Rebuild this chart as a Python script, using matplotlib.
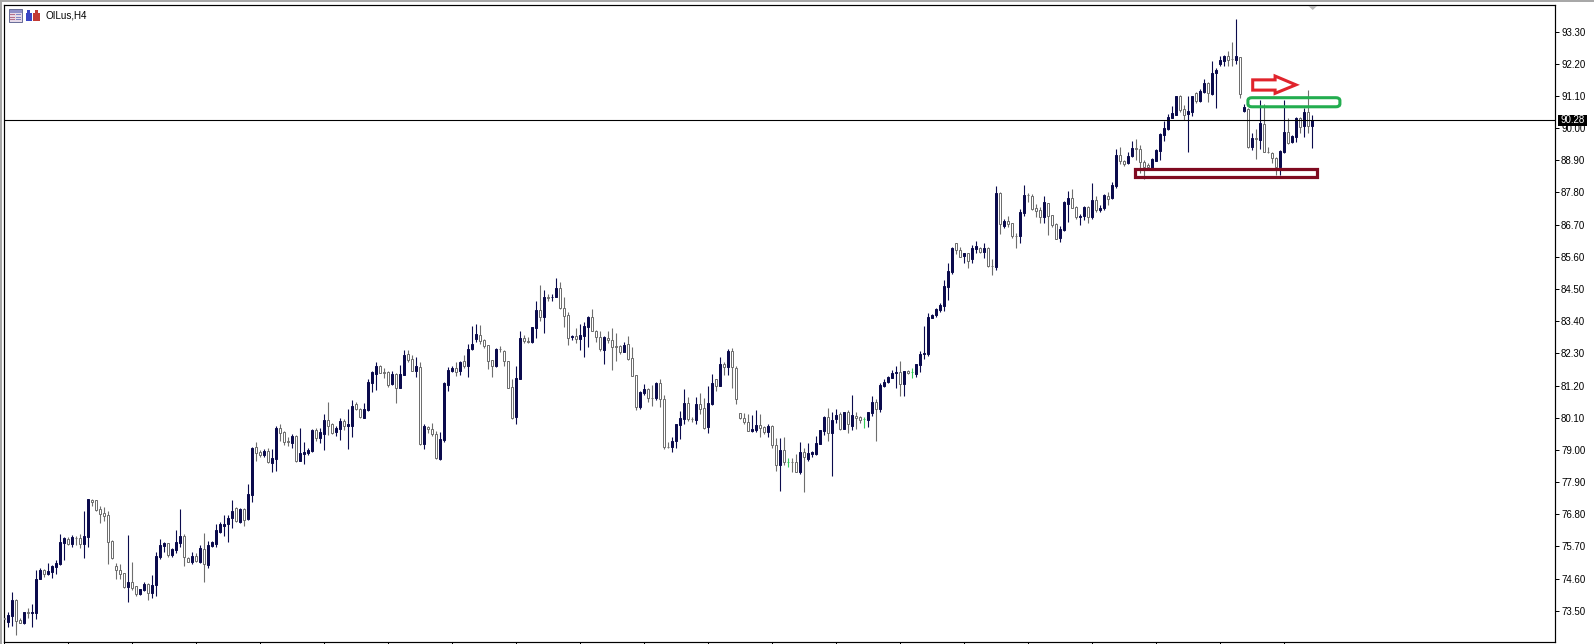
import numpy as np
import matplotlib
matplotlib.use("Agg")
import matplotlib.pyplot as plt
from matplotlib.patches import Rectangle, Polygon, FancyBboxPatch

symbol_label = "OILus,H4"
last_price = 90.28
price_ticks = [93.30, 92.20, 91.10, 90.00, 88.90, 87.80, 86.70, 85.60, 84.50, 83.40,
               82.30, 81.20, 80.10, 79.00, 77.90, 76.80, 75.70, 74.60, 73.50]

opens = [73.25,
    73.13,73.33,73.87,73.18,73.08,73.46,73.44,73.44,74.59,74.88,
    74.76,74.83,75.01,75.09,75.83,75.97,75.78,76.00,75.99,75.78,
    76.01,77.29,77.27,76.98,76.83,76.76,75.90,75.02,74.88,74.78,
    74.32,74.47,74.34,74.07,74.21,74.43,74.09,74.38,75.35,75.73,
    75.81,75.41,75.59,75.83,76.07,75.30,75.15,75.36,75.17,75.60,
    75.07,75.71,75.78,76.19,76.41,76.47,76.66,77.00,76.54,76.98,
    76.65,77.46,79.09,78.93,78.83,78.96,78.56,78.69,79.75,79.61,
    79.29,79.23,79.49,78.62,78.87,78.88,78.95,79.68,79.41,79.55,
    80.02,79.88,79.60,79.73,79.99,79.82,79.82,80.58,80.40,80.10,
    80.37,81.27,81.61,81.88,81.65,81.65,81.26,81.61,81.13,81.57,
    82.28,82.12,81.69,81.83,79.20,79.79,79.73,79.54,78.68,79.33,
    81.21,81.68,81.80,81.68,82.04,81.87,82.44,82.78,82.94,82.75,
    82.57,82.07,81.87,82.45,82.39,82.04,81.14,80.13,81.43,82.81,
    82.72,82.69,83.16,83.77,83.53,84.22,84.22,84.24,84.52,83.84,
    83.60,82.86,82.88,82.80,82.90,83.21,83.54,83.07,82.86,82.42,
    82.83,82.75,82.55,82.55,82.34,82.62,82.13,81.55,80.45,80.93,
    81.08,80.79,80.76,81.28,80.73,79.11,79.10,79.30,79.86,80.05,
    80.59,80.06,80.02,80.56,80.42,79.79,80.57,81.41,81.19,81.93,
    81.84,82.39,81.80,80.25,80.08,79.97,79.65,79.68,79.84,79.78,
    79.62,79.82,79.15,78.50,78.99,78.59,78.60,78.58,78.23,78.92,
    78.69,78.87,78.86,79.20,79.66,80.12,79.59,80.05,80.21,79.72,
    80.28,79.83,80.17,80.11,80.04,80.02,80.27,80.62,80.40,81.19,
    81.32,81.47,81.64,81.66,81.25,81.70,81.65,81.59,81.91,82.28,
    82.28,83.51,83.60,83.78,83.93,84.58,85.08,86.06,85.83,85.64,
    85.72,85.51,85.87,85.91,85.78,85.91,85.30,85.24,87.79,86.66,
    86.81,86.76,86.32,86.31,87.11,87.72,87.69,87.26,87.20,86.97,
    87.43,87.02,86.72,86.23,86.52,87.42,87.60,87.29,86.95,86.99,
    87.30,86.96,87.53,87.19,87.26,87.69,87.61,88.02,89.08,88.89,
    88.80,89.03,89.31,89.28,88.85,88.74,88.63,88.89,89.23,89.77,
    89.97,90.35,90.46,91.11,90.64,90.48,90.56,91.19,90.93,91.24,
    91.53,91.16,91.87,92.18,92.29,92.47,92.38,92.33,92.43,90.57,
    90.64,89.37,89.66,89.59,90.13,89.20,89.14,88.97,88.68,89.17,
    89.86,89.51,89.71,90.33,90.07,90.54,90.08]

highs = [73.32,
    73.47,74.13,73.89,73.26,73.46,73.58,73.73,74.90,74.96,74.92,
    75.12,75.07,75.24,76.13,76.01,76.01,76.09,76.06,76.11,76.91,
    77.32,77.32,77.29,77.08,77.03,76.91,75.92,75.12,75.09,74.78,
    76.08,75.15,74.36,74.24,74.50,74.46,74.72,75.50,75.95,75.86,
    75.83,75.64,76.26,76.98,76.11,75.35,75.52,75.49,75.75,76.15,
    75.90,75.87,76.47,76.55,76.78,76.78,77.29,77.03,77.00,77.00,
    77.84,79.09,79.26,79.00,79.03,79.05,79.03,79.82,79.88,79.66,
    79.43,79.53,79.51,79.74,79.26,79.05,79.70,79.74,79.74,80.23,
    80.62,79.91,79.82,80.08,80.06,80.40,80.70,80.65,80.42,80.59,
    81.43,81.69,82.00,81.90,81.79,81.68,81.68,81.64,81.90,82.42,
    82.42,82.26,82.16,82.02,79.90,79.81,79.93,79.65,79.61,81.33,
    81.84,81.87,82.01,82.05,82.24,82.62,83.24,83.30,83.26,82.80,
    82.60,82.07,82.48,82.55,82.41,82.04,81.41,81.86,83.06,82.94,
    82.85,83.21,84.09,84.64,84.46,84.33,84.33,84.86,84.73,84.21,
    83.71,82.92,83.15,83.32,83.38,83.58,83.80,83.10,83.05,82.89,
    83.07,83.15,82.98,82.58,82.70,82.89,82.53,81.56,81.01,81.25,
    81.10,81.22,81.33,81.41,80.87,79.28,79.45,79.90,80.33,81.07,
    80.82,80.13,80.82,80.93,80.76,81.20,81.59,81.43,82.16,82.01,
    82.45,82.47,81.86,80.27,80.27,80.22,80.19,80.36,80.22,79.83,
    79.90,79.85,79.39,79.39,79.43,78.71,78.71,78.85,79.26,79.05,
    79.22,78.97,79.47,79.68,80.16,80.43,80.28,80.39,80.28,80.30,
    80.36,80.87,80.28,80.16,80.13,80.30,80.84,80.74,81.28,81.41,
    81.52,81.73,81.87,82.04,81.71,81.73,81.79,81.95,82.37,83.23,
    83.67,83.66,83.84,84.03,84.81,85.38,85.92,86.08,85.92,85.74,
    85.72,86.00,86.14,85.95,86.06,85.95,85.54,88.02,87.83,86.88,
    86.99,86.77,86.43,87.22,88.05,87.77,87.74,87.41,87.31,87.68,
    87.45,87.03,86.77,86.66,87.52,87.84,87.92,87.34,87.05,87.34,
    87.34,88.11,87.68,87.36,87.74,87.83,88.17,89.28,89.37,88.91,
    89.20,89.56,89.62,89.42,88.91,88.82,88.97,89.28,89.82,90.26,
    90.48,90.76,91.10,91.13,90.79,91.10,91.11,91.22,91.33,91.68,
    91.59,92.30,92.05,92.47,92.50,92.64,92.93,93.73,92.44,90.82,
    90.68,89.82,89.96,90.96,90.81,89.34,89.19,89.02,89.25,90.96,
    90.33,89.76,90.37,90.37,90.68,91.30,90.45]

lows = [73.13,
    72.96,72.99,72.68,73.09,73.05,73.26,72.96,73.22,74.58,74.65,
    74.73,74.62,74.77,75.05,75.24,75.75,75.69,75.75,75.65,75.30,
    75.69,77.09,76.91,76.51,76.57,75.11,75.27,74.60,74.59,74.29,
    73.81,74.20,74.02,74.05,74.19,73.88,73.94,74.00,75.26,75.52,
    75.35,75.35,75.49,75.69,75.04,75.15,75.10,75.16,75.12,74.50,
    74.96,75.67,75.69,76.17,76.06,75.86,76.34,76.55,76.51,76.40,
    76.60,77.22,78.63,78.77,78.74,78.54,78.25,78.29,79.31,79.18,
    79.13,79.08,78.59,78.62,78.52,78.84,78.94,79.31,79.25,79.00,
    79.51,79.55,79.48,79.34,79.68,79.03,79.45,80.37,80.10,80.08,
    80.34,80.99,81.05,81.62,81.45,81.16,81.22,80.59,81.11,81.56,
    82.02,81.68,81.48,79.15,79.03,79.56,79.47,78.68,78.65,79.28,
    81.01,81.65,81.52,81.55,81.79,81.50,82.41,82.70,82.62,82.50,
    81.76,81.50,81.82,82.36,81.87,81.11,80.04,79.89,81.41,82.66,
    82.64,82.67,82.81,83.42,83.00,84.10,84.10,84.21,83.83,83.21,
    82.59,82.75,82.64,82.41,82.17,82.53,83.05,82.70,82.39,81.93,
    82.64,81.73,82.04,82.28,82.33,82.07,81.52,80.36,80.40,80.87,
    80.65,80.50,80.70,80.47,79.03,79.05,78.94,79.06,79.37,79.88,
    79.98,79.96,79.90,80.22,79.71,79.58,80.54,81.02,81.17,81.56,
    81.56,81.11,80.57,80.04,79.90,79.63,79.62,79.60,79.43,79.54,
    79.45,79.05,78.29,77.61,78.48,78.42,78.25,78.23,78.17,77.57,
    78.63,78.77,78.83,79.19,79.51,79.31,78.12,79.91,79.68,79.70,
    79.59,79.68,79.70,79.93,79.76,79.79,80.17,79.31,80.31,81.16,
    81.30,81.45,81.13,80.84,80.84,81.59,81.47,81.48,81.67,82.09,
    82.22,83.50,83.55,83.72,83.76,84.12,85.01,85.70,85.58,85.40,
    85.22,85.40,85.74,85.74,85.55,85.26,84.98,85.15,86.38,86.58,
    86.63,86.23,85.90,86.08,87.01,87.49,87.20,86.95,86.74,86.77,
    86.35,86.63,86.20,86.11,86.48,86.79,87.26,86.88,86.69,86.86,
    86.77,86.89,87.14,87.14,87.20,87.37,87.56,87.97,88.76,88.72,
    88.77,89.00,88.91,88.46,88.25,88.57,88.57,88.88,88.91,89.57,
    89.94,90.34,90.45,90.56,90.28,89.20,90.42,90.87,90.91,91.21,
    90.91,91.13,90.70,92.13,92.13,92.13,92.13,92.18,91.04,90.56,
    89.31,89.25,88.93,89.27,89.17,89.14,88.80,88.40,88.40,89.14,
    89.46,89.50,89.54,89.84,89.71,89.84,89.31]

closes = [73.23,
    73.36,73.87,73.16,73.09,73.46,73.44,73.46,74.59,74.88,74.77,
    74.85,75.03,75.12,75.85,75.99,75.78,76.01,75.98,75.79,76.06,
    77.32,77.21,76.95,76.81,76.75,75.86,75.30,74.91,74.77,74.32,
    74.47,74.29,74.06,74.23,74.40,74.09,74.38,75.37,75.74,75.82,
    75.41,75.60,75.85,76.05,75.33,75.17,75.36,75.20,75.65,75.09,
    75.74,75.84,76.26,76.47,76.47,76.67,76.91,76.57,76.98,76.60,
    77.49,79.07,78.91,78.83,78.96,78.59,78.71,79.76,79.59,79.28,
    79.27,79.48,78.61,78.88,78.93,79.00,79.69,79.41,79.60,80.02,
    79.82,79.59,79.75,79.99,79.82,79.88,80.51,80.39,80.13,80.40,
    81.32,81.67,81.87,81.64,81.63,81.22,81.60,81.13,81.60,82.25,
    82.08,81.71,81.86,79.19,79.81,79.72,79.54,78.72,79.37,81.28,
    81.72,81.81,81.67,82.01,81.87,82.45,82.62,82.96,82.72,82.55,
    82.05,81.87,82.46,82.44,82.05,81.13,80.10,81.45,82.81,82.71,
    82.70,83.19,83.78,83.55,84.22,84.20,84.24,84.52,83.85,83.59,
    82.83,82.88,82.78,82.93,83.23,83.55,83.07,82.87,82.44,82.86,
    82.75,82.53,82.53,82.36,82.58,82.12,81.53,80.46,80.98,81.07,
    80.78,80.77,81.28,80.73,79.10,79.09,79.32,79.88,80.09,80.59,
    80.05,80.04,80.56,80.41,79.75,80.59,81.27,81.19,81.93,81.84,
    82.38,81.82,80.73,80.08,79.96,79.65,79.71,79.85,79.76,79.62,
    79.81,79.15,78.50,78.99,78.59,78.59,78.58,78.25,78.92,78.74,
    78.88,78.94,79.22,79.67,80.12,79.59,80.01,80.18,79.71,80.28,
    79.87,80.19,80.10,80.02,80.04,80.28,80.62,80.41,81.22,81.33,
    81.48,81.62,81.66,81.26,81.68,81.62,81.65,81.92,82.28,82.30,
    83.53,83.61,83.81,83.95,84.60,85.11,85.90,85.83,85.60,85.72,
    85.47,85.89,85.97,85.76,85.89,85.29,85.28,87.77,86.71,86.84,
    86.73,86.31,86.30,87.13,87.71,87.70,87.22,87.18,86.97,87.47,
    87.01,86.69,86.22,86.54,87.49,87.61,87.28,86.95,87.01,87.30,
    86.95,87.54,87.20,87.26,87.71,87.59,88.04,89.08,88.89,88.77,
    89.05,89.31,89.29,88.85,88.68,88.68,88.95,89.25,89.80,90.02,
    90.37,90.51,91.10,90.62,90.45,90.58,91.10,90.94,91.27,91.53,
    91.19,91.87,91.99,92.33,92.47,92.33,92.36,92.47,91.17,90.71,
    89.37,89.65,89.64,90.17,89.19,89.18,88.97,88.68,89.22,89.86,
    89.50,89.73,90.33,90.05,90.54,90.08,90.28]

# hand-drawn annotations, in bar index / price units
arrow_x = [312.1, 317.7, 317.7, 322.9, 317.7, 317.7, 312.1]
arrow_y = [91.65, 91.65, 91.78, 91.48, 91.19, 91.30, 91.30]
resist_x = [310.9, 333.9]
resist_y = [90.73, 91.04]
support_x = [282.7, 328.2]
support_y = [88.34, 88.60]

W, H = 1594, 644
BULL, BEAR, DOJI = "#0b0b4d", "#6e6e6e", "#35c95a"
px = 72 / 100

plt.rcParams["font.family"] = ["Liberation Sans", "DejaVu Sans"]
fig = plt.figure(figsize=(W / 100, H / 100), dpi=100, facecolor="white")
L_, R_, T_, B_ = 4, 1555, 5, 642
ax = fig.add_axes([L_ / W, (H - B_) / H, (R_ - L_) / W, (B_ - T_) / H])

o, h, l, c = map(np.array, (opens, highs, lows, closes))
x = np.arange(len(o))
up, down, flat = c > o, c < o, c == o
for mask, col, face, wid, edge_lw in ((up, BULL, BULL, 0.5, px),
                                      (down, BEAR, "white", 0.5, px),
                                      (flat, DOJI, DOJI, 0.5, px)):
    ax.vlines(x[mask], l[mask], h[mask], color=col, lw=px * 1.1, zorder=2)
    ax.bar(x[mask], np.abs(c - o)[mask], bottom=np.minimum(o, c)[mask], width=wid,
           facecolor=face, edgecolor=col, linewidth=edge_lw, zorder=3)

ax.axhline(last_price, color="black", lw=px * 1.1, zorder=4)

ax.set_xlim((L_ - 4.3) / 4, (R_ - 4.3) / 4)
ax.set_ylim(93.30 - (B_ - 31.6) / 29.25, 93.30 + (31.6 - T_) / 29.25)

ax.yaxis.tick_right()
ax.set_yticks(price_ticks)
ax.set_yticklabels([f"{v:.2f}" for v in price_ticks])
ax.tick_params(axis="y", length=4 * px, width=px, pad=1.5, labelsize=7.0, color="black")
ax.set_xticks(np.arange(0, len(o), 16))
ax.set_xticklabels([])
ax.tick_params(axis="x", length=2 * px, width=px)
for s in ax.spines.values():
    s.set_linewidth(px * 1.2)
    s.set_color("black")

# annotations
ax.add_patch(Polygon(np.column_stack([arrow_x, arrow_y]), closed=True, fill=False,
                     edgecolor="#e0242c", lw=2.2, joinstyle="miter", zorder=5))
ax.add_patch(FancyBboxPatch((resist_x[0] + 0.5, resist_y[0] + 0.05),
                            resist_x[1] - resist_x[0] - 1, resist_y[1] - resist_y[0] - 0.1,
                            boxstyle="round,pad=0.5,rounding_size=1", mutation_aspect=0.1,
                            fill=False, edgecolor="#23ad4f", lw=2.2, zorder=5))
ax.add_patch(Rectangle((support_x[0], support_y[0]), support_x[1] - support_x[0],
                       support_y[1] - support_y[0], fill=False,
                       edgecolor="#7f0a20", lw=2.3, zorder=5))


def pxrect(x0, y0, w, h_, **kw):
    fig.add_artist(Rectangle((x0 / W, 1 - (y0 + h_) / H), w / W, h_ / H,
                             transform=fig.transFigure, **kw))


# window edge
pxrect(0, 0, W, 1.6, facecolor="#a8a8a8", edgecolor="none")
pxrect(0, 0, 2.2, H, facecolor="#a8a8a8", edgecolor="none")

# toolbar icons
pxrect(8.5, 9.5, 14, 12, facecolor="#e6d9e8", edgecolor="#6a6f9a", lw=px)
pxrect(9.5, 10.5, 12, 2.2, facecolor="#8f8fc8", edgecolor="none")
for yy in (14, 16.5, 19):
    pxrect(10, yy, 5, 1, facecolor="#b66f8a", edgecolor="none")
    pxrect(16, yy, 5, 1, facecolor="#7f86c4", edgecolor="none")
pxrect(25.5, 13.5, 6.5, 7.5, facecolor="#3a45c4", edgecolor="none")
pxrect(27, 9.5, 2.5, 5, facecolor="#3a45c4", edgecolor="none")
pxrect(33, 13.5, 6.5, 7.5, facecolor="#c23a34", edgecolor="none")
pxrect(35, 9.5, 2.5, 5, facecolor="#c23a34", edgecolor="none")
fig.text(45.5 / W, 1 - 15.2 / H, symbol_label, fontsize=7.1, color="black", ha="left", va="center")

# shift marker
fig.add_artist(Polygon([[1308.5 / W, 1 - 6 / H], [1317 / W, 1 - 6 / H], [1312.7 / W, 1 - 10 / H]],
                       closed=True, transform=fig.transFigure, facecolor="#b9b9b9", edgecolor="none"))

# current price tag
tag_y = 1 - 120.3 / H
pxrect(1558, 115, 29, 10.6, facecolor="black", edgecolor="none", zorder=6)
fig.text(1572.5 / W, tag_y, f"{last_price:.2f}", color="white", fontsize=7.0,
         ha="center", va="center", zorder=7)

fig.savefig("out.png", dpi=100)
